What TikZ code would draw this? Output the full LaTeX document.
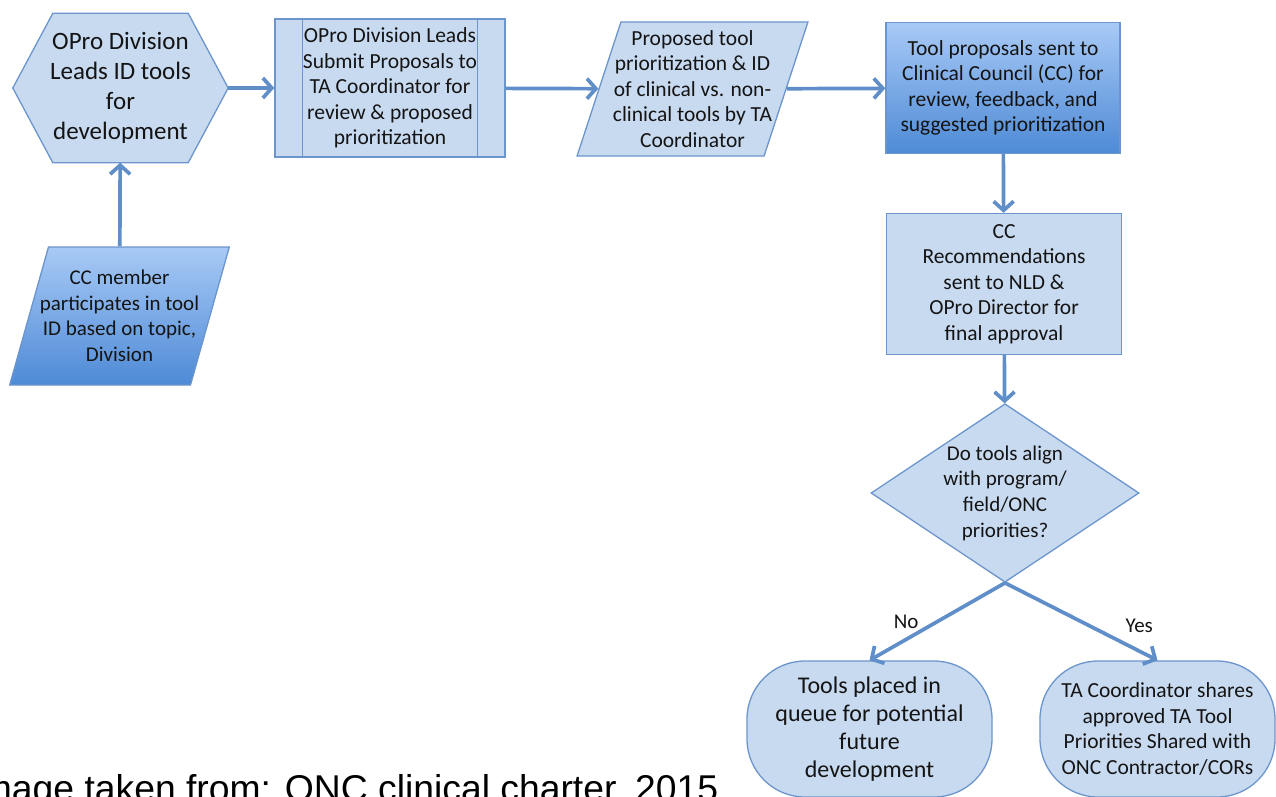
\documentclass[tikz,border=0pt]{standalone}
\usepackage{fontspec}
\setmainfont{Carlito}
\newfontfamily\arialfont{Liberation Sans}
\usetikzlibrary{shapes.geometric,arrows.meta,backgrounds}

\definecolor{boxfill}{RGB}{200,218,240}
\definecolor{boxline}{RGB}{108,149,204}
\definecolor{arrowc}{RGB}{96,142,201}
\definecolor{gradtop}{RGB}{168,202,246}
\definecolor{gradbot}{RGB}{78,138,214}
\definecolor{txt}{RGB}{20,20,20}

\tikzstyle{hx} = [rectangle, minimum width=215pt, minimum height=149pt, align=center, text=txt, font=\fontsize{25}{30}\selectfont]
\tikzstyle{pp} = [rectangle, draw=boxline, fill=boxfill, line width=1.3pt, minimum width=230pt, minimum height=138pt, align=center, text=txt, font=\fontsize{21.5}{25.5}\selectfont]
\tikzstyle{io} = [trapezium, trapezium left angle=71, trapezium right angle=109, trapezium stretches=true, draw=boxline, fill=boxfill, line width=1.3pt, minimum width=231pt, minimum height=134pt, inner xsep=-10pt, align=center, text=txt, font=\fontsize{21.5}{25.5}\selectfont]
\tikzstyle{gio} = [io, top color=gradtop, bottom color=gradbot, minimum width=220pt, minimum height=138pt, inner xsep=-18pt, font=\fontsize{21}{25.5}\selectfont]
\tikzstyle{bx} = [rectangle, draw=boxline, fill=boxfill, line width=1.3pt, minimum width=235pt, minimum height=141pt, align=center, text=txt, font=\fontsize{21.5}{25.5}\selectfont]
\tikzstyle{gb} = [bx, top color=gradtop, bottom color=gradbot, minimum width=234pt, minimum height=131pt]
\tikzstyle{dm} = [diamond, draw=boxline, fill=boxfill, line width=1.3pt, minimum width=268pt, minimum height=166pt, inner sep=-10pt, align=center, text=txt, font=\fontsize{21}{25.7}\selectfont]
\tikzstyle{tm} = [rectangle, rounded corners=58pt, draw=boxline, fill=boxfill, line width=1.3pt, minimum width=245pt, minimum height=136pt, align=center, text=txt, font=\fontsize{24}{28}\selectfont]
\tikzstyle{ln} = [line width=3.7pt, draw=arrowc, -{Straight Barb[length=9pt,width=20pt]}]
\tikzstyle{lb} = [inner sep=0pt, text=txt, font=\fontsize{21}{24}\selectfont]

\begin{document}
\begin{tikzpicture}[x=1pt, y=-1pt]
	\useasboundingbox (0,0) rectangle (1276,797);
	\clip (0,0) rectangle (1276,797);

	\node [hx] (h) at (120.5,88) {OPro Division\\Leads ID tools\\for\\development};
	\node [pp] (b) at (390,88) {OPro Division Leads\\Submit Proposals to\\TA Coordinator for\\review \& proposed\\prioritization};
	\node [io] (i) at (692.5,89) {Proposed tool\\prioritization \& ID\\of clinical vs. non-\\clinical tools by TA\\Coordinator};
	\node [gb] (t) at (1003,88) {Tool proposals sent to\\Clinical Council (CC) for\\review, feedback, and\\suggested prioritization};
	\node [bx] (c) at (1004,284) {CC\\Recommendations\\sent to NLD \&\\OPro Director for\\final approval};
	\node [dm] (d) at (1005,493) {Do tools align\\with program/\\field/ONC\\priorities?};
	\node [tm] (n) at (869.5,729) {Tools placed in\\queue for potential\\future\\development};
	\node [tm, minimum width=235pt, font=\fontsize{21.5}{25.5}\selectfont] (y) at (1157.5,729) {TA Coordinator shares\\approved TA Tool\\Priorities Shared with\\ONC Contractor/CORs};
	\node [gio] (m) at (119.5,316) {CC member\\participates in tool\\ID based on topic,\\Division};
	\node [anchor=base west, font=\fontsize{37.3}{37.3}\arialfont] (s) at (-33,801) {Image taken from: ONC clinical charter, 2015};

	% hexagon outline behind its text
	\begin{scope}[on background layer]
		\draw [draw=boxline, fill=boxfill, line width=1.3pt] (h.west) -- ([xshift=40pt]h.north west) -- ([xshift=-40pt]h.north east) -- (h.east) -- ([xshift=-40pt]h.south east) -- ([xshift=40pt]h.south west) -- cycle;
	\end{scope}
	% side bars of the process box
	\draw [boxline, line width=1.3pt] ([xshift=28pt]b.north west) -- ([xshift=28pt]b.south west);
	\draw [boxline, line width=1.3pt] ([xshift=-28pt]b.north east) -- ([xshift=-28pt]b.south east);

	\draw [ln] (m) -- (h);
	\draw [ln] (h) -- (b);
	\draw [ln] (b) -- (i);
	\draw [ln] (i) -- (t);
	\draw [ln] (t) -- (c);
	\draw [ln] (c) -- (d);
	\draw [ln] (d.south) -- (n.north) node [lb, pos=0.73, above=9pt] {No};
	\draw [ln] (d.south) -- (y.north) node [lb, pos=0.88, above=17pt] {Yes};
\end{tikzpicture}
\end{document}
